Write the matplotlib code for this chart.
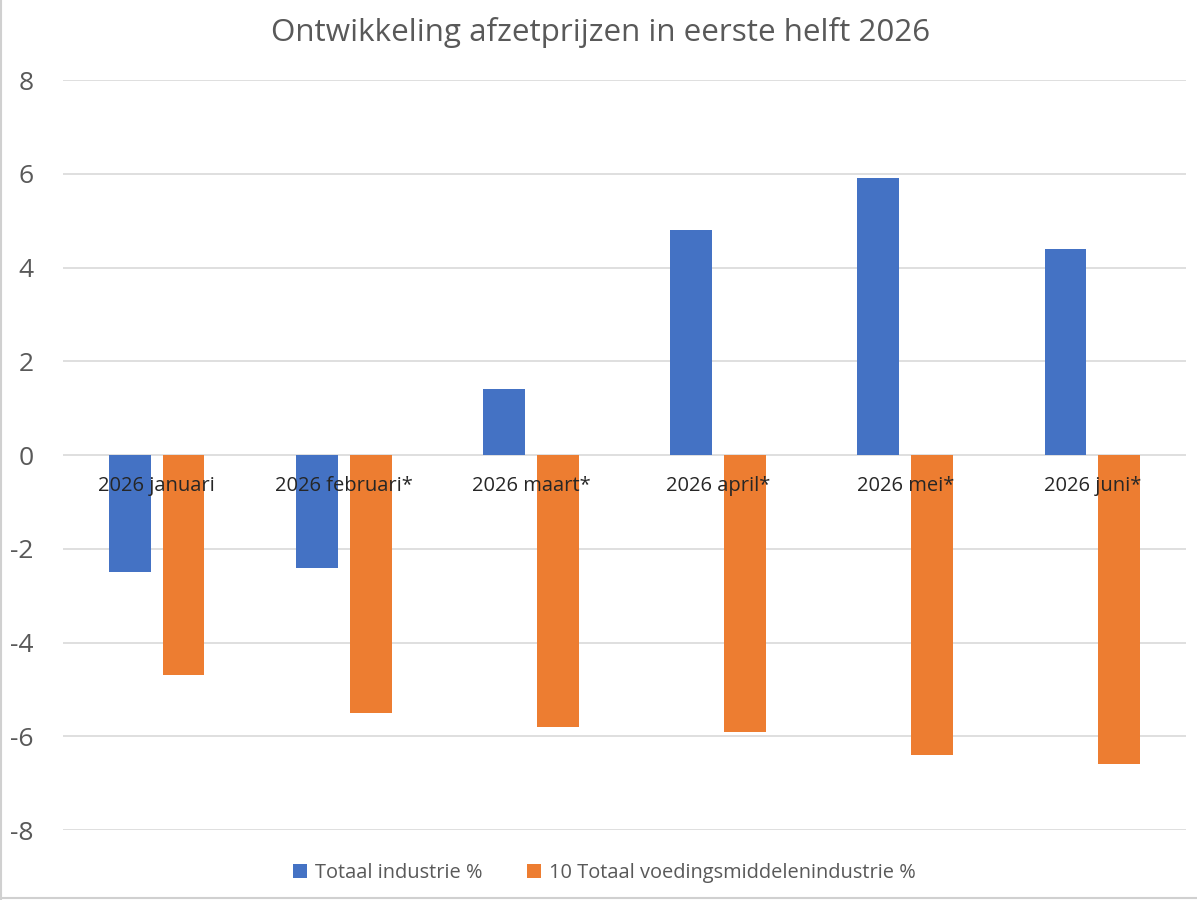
import matplotlib.pyplot as plt
import numpy as np
from matplotlib.lines import Line2D

plt.rcParams['font.family'] = ['Open Sans', 'DejaVu Sans']

maanden = ['2026 januari', '2026 februari*', '2026 maart*', '2026 april*', '2026 mei*', '2026 juni*']
industrie = [-2.5, -2.4, 1.4, 4.8, 5.9, 4.4]
voeding = [-4.7, -5.5, -5.8, -5.9, -6.4, -6.6]
yticks = [-8, -6, -4, -2, 0, 2, 4, 6, 8]

blauw = '#4472c4'
oranje = '#ed7d31'

fig = plt.figure(figsize=(11.97, 9), dpi=100)
ax = fig.add_axes([63 / 1197, 1 - 830 / 900, (1186 - 63) / 1197, 750 / 900])

x = np.arange(len(maanden))
w = 0.224
ax.bar(x - 0.144, industrie, w, color=blauw, label='Totaal industrie %', zorder=2)
ax.bar(x + 0.144, voeding, w, color=oranje, label='10 Totaal voedingsmiddelenindustrie %', zorder=2)

ax.set_xlim(-0.5, len(maanden) - 0.5)
ax.set_ylim(-8, 8)
ax.set_yticks(yticks)
ax.set_yticklabels([str(v) for v in yticks])
ax.tick_params(axis='y', length=0, pad=21, labelsize=19, labelcolor='#595959')
ax.set_xticks([])
ax.grid(axis='y', color='#d9d9d9', linewidth=1.2, zorder=0)
for s in ax.spines.values():
    s.set_visible(False)

# categorie-labels bij de nullijn, over de balken heen
for i, m in enumerate(maanden):
    ax.text(i, -0.66, m, ha='center', va='center', fontsize=14.5, color='#262626', zorder=3)

fig.text(0.502, 1 - 33 / 900, 'Ontwikkeling afzetprijzen in eerste helft 2026',
         ha='center', va='center', fontsize=22.6, color='#595959')

leg = fig.legend(loc='center', bbox_to_anchor=(0.505, 1 - 873 / 900), ncol=2, frameon=False,
                 fontsize=14.4, handlelength=0.7, handleheight=0.7, columnspacing=2.2, handletextpad=0.4)
for t in leg.get_texts():
    t.set_color('#595959')

# rand van de grafiek
fig.add_artist(Line2D([0.001, 0.001], [0, 1], color='#d0d0d0', linewidth=1.5))
fig.add_artist(Line2D([0, 1], [0.002, 0.002], color='#d0d0d0', linewidth=1.5))

fig.savefig('out.png', dpi=100)
